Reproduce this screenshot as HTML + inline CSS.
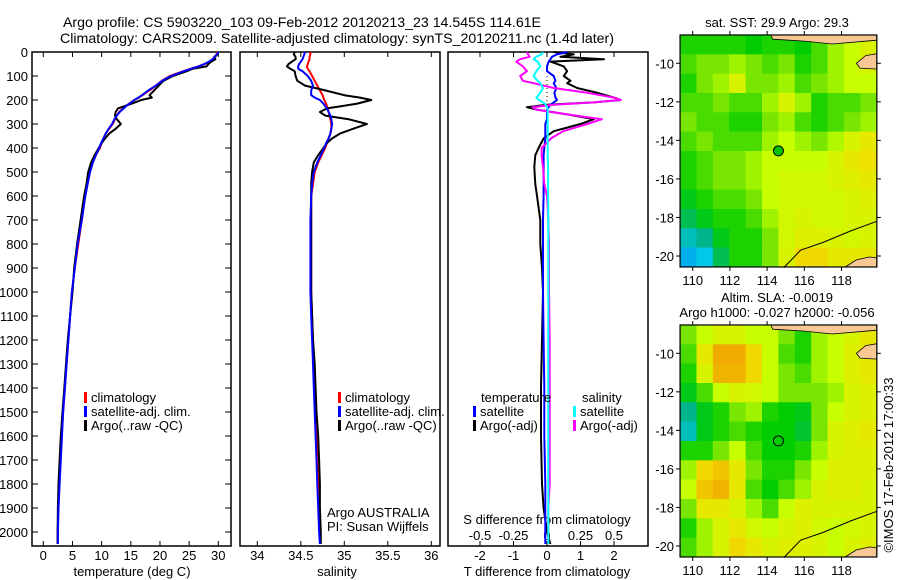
<!DOCTYPE html>
<html><head><meta charset="utf-8"><style>
html,body{margin:0;padding:0;background:#fff;}
svg{display:block;font-family:"Liberation Sans",sans-serif;}
text{fill:#000;}
</style></head><body>
<svg id="c" width="900" height="580" viewBox="0 0 900 580" xmlns="http://www.w3.org/2000/svg">
<g font-size="14">
<text x="63" y="27" textLength="478" lengthAdjust="spacingAndGlyphs">Argo profile: CS 5903220_103 09-Feb-2012 20120213_23 14.545S 114.61E</text>
<text x="60" y="43" textLength="554" lengthAdjust="spacingAndGlyphs">Climatology: CARS2009. Satellite-adjusted climatology: synTS_20120211.nc (1.4d later)</text>
</g>
<g id="p1"></g>
<g id="p2"></g>
<g id="p3"></g>
<g id="m1"></g>
<g id="m2"></g>
<text x="893" y="465" font-size="13" text-anchor="middle" transform="rotate(-90 893 465)">©IMOS 17-Feb-2012 17:00:33</text>
</svg>
<script>
// ---------- data ----------
const depth=[0,10,20,30,40,50,60,70,80,100,120,140,160,180,190,200,215,225,235,250,265,280,300,320,340,360,380,400,430,460,500,550,600,700,800,900,1000,1100,1200,1300,1400,1500,1600,1700,1800,1900,2000,2050];
const tempClim=[29.8,29.7,29.5,29.2,28.6,27.7,26.5,25.2,24,21.7,20.3,19.3,18.2,17,16.4,15.6,14.7,14.2,13.7,13.0,12.6,12.3,11.9,11.3,10.7,10.3,10.0,9.7,9.0,8.5,8.0,7.6,7.2,6.6,6.0,5.4,4.9,4.6,4.3,4.0,3.7,3.4,3.15,2.95,2.75,2.6,2.47,2.45];
const tempSat=[30.0,29.8,29.4,29.0,28.4,27.6,26.6,25.3,24.1,21.9,20.4,19.3,18.0,16.9,16.3,15.6,14.8,14.2,13.8,13.1,12.6,12.2,11.8,11.2,10.7,10.3,9.9,9.6,9.0,8.5,8.0,7.6,7.2,6.6,5.9,5.4,4.9,4.6,4.3,4.0,3.7,3.4,3.2,3.0,2.8,2.6,2.5,2.5];
const tempArgo=[30.0,29.9,29.3,29.5,28.8,28.3,28.0,25.6,24.6,22.2,20.6,19.8,19.0,18.2,18.6,16.8,15.2,14.0,12.8,12.4,12.3,12.6,13.3,12.4,11.3,10.6,10.0,9.5,8.8,8.2,7.7,7.4,7.0,6.4,5.8,5.3,5.0,4.6,4.2,3.9,3.6,3.3,3.0,2.8,2.6,2.5,2.45,2.45];
const salClim=[34.61,34.61,34.60,34.60,34.59,34.58,34.57,34.58,34.60,34.63,34.66,34.69,34.72,34.75,34.76,34.77,34.79,34.80,34.81,34.82,34.83,34.84,34.85,34.85,34.84,34.82,34.80,34.78,34.74,34.70,34.66,34.64,34.62,34.62,34.62,34.62,34.62,34.63,34.64,34.65,34.66,34.67,34.68,34.69,34.70,34.71,34.72,34.73];
const salSat=[34.55,34.54,34.53,34.52,34.50,34.48,34.47,34.47,34.52,34.58,34.62,34.64,34.62,34.62,34.66,34.72,34.76,34.78,34.80,34.82,34.84,34.85,34.86,34.85,34.84,34.82,34.79,34.77,34.73,34.69,34.65,34.63,34.62,34.61,34.61,34.61,34.61,34.62,34.63,34.64,34.65,34.66,34.67,34.68,34.69,34.70,34.71,34.72];
const salArgo=[34.43,34.42,34.44,34.44,34.40,34.36,34.34,34.38,34.43,34.44,34.46,34.55,34.78,35.00,35.18,35.31,35.15,34.98,34.80,34.72,34.78,35.05,35.26,35.10,34.95,34.86,34.80,34.76,34.70,34.65,34.63,34.62,34.62,34.62,34.62,34.62,34.62,34.63,34.64,34.66,34.67,34.68,34.70,34.71,34.72,34.72,34.73,34.73];
const diffDepth=[0,10,20,30,40,60,80,100,120,130,150,170,190,200,210,220,230,240,260,280,300,330,360,400,430,480,550,600,700,800,900,1000,1200,1400,1600,1800,1900,2000,2050];
const tDiffSat=[0.6,0.3,0.15,0.1,0.05,0,0,0.2,0.25,0.2,0.28,0.22,0.25,0.3,0.2,0.1,0.05,0,0,0,-0.05,-0.05,-0.05,-0.08,-0.1,-0.1,-0.1,-0.1,-0.12,-0.12,-0.12,-0.12,-0.1,-0.08,-0.08,-0.05,-0.05,-0.05,-0.05];
const tDiffArgo=[0.2,0.8,0.4,1.7,0.1,0.5,0.6,0.5,0.7,0.6,0.9,1.5,2.0,2.2,1.4,0,-0.6,-0.3,0.6,1.4,1.0,0.2,-0.1,-0.25,-0.35,-0.38,-0.35,-0.3,-0.2,-0.2,-0.15,-0.12,-0.15,-0.18,-0.18,-0.15,-0.1,0,0.1];
const sDiffSat=[-0.03,-0.04,-0.08,-0.1,-0.07,-0.05,-0.08,-0.1,-0.07,-0.05,-0.03,-0.05,-0.08,-0.06,-0.03,-0.01,0,0.005,0.005,0.005,0.005,0.005,0.005,0.005,0.005,0.008,0.008,0.008,0.01,0.01,0.01,0.01,0.01,0.01,0.01,0.01,0.01,0.01,0.01];
const sDiffArgo=[-0.15,-0.14,-0.13,-0.2,-0.23,-0.18,-0.15,-0.2,-0.18,-0.1,0.05,0.3,0.5,0.55,0.35,0.05,-0.11,-0.08,0.15,0.41,0.3,0.12,0.03,-0.04,-0.04,-0.03,-0.02,0,0.01,0.015,0.015,0.015,0.02,0.02,0.02,0.02,0.01,0.01,0.01];
const depthTicks=[0,100,200,300,400,500,600,700,800,900,1000,1100,1200,1300,1400,1500,1600,1700,1800,1900,2000];
const tempTicks=[0,5,10,15,20,25,30];
const salTicks=[34,34.5,35,35.5,36];
const tDiffTicks=[-2,-1,0,1,2];
const sDiffTicks=[-0.5,-0.25,0,0.25,0.5];
const sDiffTickLabels=["-0.5","-0.25","0","0.25","0.5"];
const lonTicks=[110,112,114,116,118];
const latTicks=[-10,-12,-14,-16,-18,-20];
const argoLon=114.61, argoLat=-14.545;
const sstGrid=[
[0.45,0.45,0.45,0.45,0.42,0.45,0.45,0.42,0.5,0.6,0.65,0.7],
[0.5,0.55,0.55,0.6,0.55,0.5,0.55,0.45,0.5,0.6,0.65,0.7],
[0.45,0.55,0.6,0.7,0.55,0.55,0.6,0.5,0.55,0.6,0.65,0.65],
[0.5,0.5,0.55,0.5,0.5,0.6,0.7,0.6,0.45,0.5,0.5,0.55],
[0.55,0.5,0.5,0.45,0.45,0.55,0.6,0.5,0.45,0.5,0.55,0.6],
[0.5,0.55,0.5,0.5,0.5,0.6,0.65,0.6,0.55,0.62,0.7,0.75],
[0.45,0.5,0.55,0.55,0.6,0.65,0.65,0.65,0.65,0.7,0.75,0.78],
[0.45,0.5,0.55,0.55,0.6,0.65,0.68,0.68,0.68,0.7,0.72,0.75],
[0.4,0.45,0.5,0.5,0.55,0.65,0.68,0.68,0.68,0.68,0.7,0.72],
[0.35,0.4,0.45,0.45,0.5,0.6,0.68,0.7,0.68,0.68,0.7,0.7],
[0.25,0.3,0.4,0.45,0.45,0.55,0.68,0.72,0.72,0.7,0.68,0.7],
[0.15,0.2,0.35,0.45,0.45,0.55,0.7,0.8,0.8,0.75,0.75,0.75]];
const slaGrid=[
[0.55,0.65,0.7,0.7,0.65,0.65,0.55,0.45,0.6,0.65,0.7,0.75],
[0.5,0.75,0.92,0.92,0.8,0.65,0.5,0.45,0.6,0.65,0.72,0.75],
[0.45,0.7,0.9,0.9,0.8,0.65,0.55,0.5,0.6,0.65,0.72,0.75],
[0.4,0.5,0.65,0.7,0.68,0.65,0.55,0.55,0.55,0.6,0.7,0.72],
[0.3,0.4,0.45,0.55,0.6,0.45,0.42,0.4,0.55,0.65,0.7,0.72],
[0.25,0.4,0.45,0.5,0.45,0.42,0.42,0.38,0.55,0.7,0.72,0.75],
[0.45,0.45,0.55,0.65,0.5,0.42,0.42,0.45,0.6,0.7,0.72,0.72],
[0.6,0.8,0.85,0.75,0.55,0.45,0.45,0.55,0.65,0.72,0.72,0.72],
[0.65,0.85,0.9,0.75,0.5,0.42,0.5,0.6,0.7,0.72,0.72,0.7],
[0.55,0.75,0.75,0.7,0.6,0.5,0.65,0.72,0.7,0.7,0.7,0.7],
[0.45,0.6,0.7,0.75,0.68,0.65,0.7,0.72,0.68,0.65,0.68,0.7],
[0.5,0.6,0.7,0.8,0.75,0.7,0.72,0.72,0.7,0.65,0.7,0.72]];
const coastLon=[119.9,118.5,117,115.8,115.3,114.9];
const coastLat=[-18.2,-18.7,-19.3,-19.7,-20.2,-20.6];

// ---------- helpers ----------
const NS="http://www.w3.org/2000/svg";
function mk(parent,tag,attrs,txt){const e=document.createElementNS(NS,tag);for(const k in attrs)e.setAttribute(k,attrs[k]);if(txt!==undefined)e.textContent=txt;parent.appendChild(e);return e;}
const yD=d=>52+d*0.24;
const xT=t=>43.3+t*5.833;
const xS=s=>257.3+(s-34)*87;
const xDT=v=>547+v*33.5;
const xDS=s=>547+s*134;
const TOP=52,BOT=546;

function frame(g,x0,x1,name){
  const r=mk(g,'rect',{x:x0,y:TOP,width:x1-x0,height:BOT-TOP,fill:'none',stroke:'#000','stroke-width':1.5});
  
  
}
function xticks(g,vals,labels,sc,y,name){
  vals.forEach((v,i)=>{
    const x=sc(v);
    mk(g,'line',{x1:x,x2:x,y1:TOP,y2:TOP+5,stroke:'#000'});
    mk(g,'line',{x1:x,x2:x,y1:BOT,y2:BOT-5,stroke:'#000'});
    const t=mk(g,'text',{x:x,y:y,'font-size':13,'text-anchor':'middle'},labels[i]);
    
    
  });
}
function series(g,xs,ys,sx,color,name,w){
  const pts=xs.map((v,i)=>sx(v).toFixed(1)+','+yD(ys[i]).toFixed(1)).join(' ');
  const p=mk(g,'polyline',{points:pts,fill:'none',stroke:color,'stroke-width':w||2,'stroke-linejoin':'round'});
  
  
}
function legend(g,x,y,items){
  items.forEach((it,i)=>{
    mk(g,'rect',{x:x,y:y+i*14-10,width:3,height:11,fill:it[0]});
    const t=mk(g,'text',{x:x+7,y:y+i*14,'font-size':13},it[1]);
    
    
  });
}

// ---------- panel 1 ----------
const p1=document.getElementById('p1');
frame(p1,32,231,'temperature');
depthTicks.forEach(d=>{
  const y=yD(d);
  mk(p1,'line',{x1:32,x2:38,y1:y,y2:y,stroke:'#000'});
  mk(p1,'line',{x1:231,x2:225,y1:y,y2:y,stroke:'#000'});
  const t=mk(p1,'text',{x:28,y:y+5,'font-size':13,'text-anchor':'end'},String(d));
  
  
});
xticks(p1,tempTicks,tempTicks.map(String),xT,560,'temperature');
mk(p1,'text',{x:132,y:576,'font-size':13,'text-anchor':'middle',},'temperature (deg C)');
series(p1,tempClim,depth,xT,'#f00','temp-climatology-line');
series(p1,tempArgo,depth,xT,'#000','temp-argo-line');
series(p1,tempSat,depth,xT,'#00f','temp-satellite-line');
legend(p1,84,402,[['#f00','climatology'],['#00f','satellite-adj. clim.'],['#000','Argo(..raw -QC)']]);

// ---------- panel 2 ----------
const p2=document.getElementById('p2');
frame(p2,240,440,'salinity');
xticks(p2,salTicks,salTicks.map(String),xS,560,'salinity');
mk(p2,'text',{x:337,y:576,'font-size':13,'text-anchor':'middle',},'salinity');
series(p2,salClim,depth,xS,'#f00','sal-climatology-line');
series(p2,salArgo,depth,xS,'#000','sal-argo-line');
series(p2,salSat,depth,xS,'#00f','sal-satellite-line');
legend(p2,338,402,[['#f00','climatology'],['#00f','satellite-adj. clim.'],['#000','Argo(..raw -QC)']]);
mk(p2,'text',{x:327,y:517,'font-size':13,},'Argo AUSTRALIA');
mk(p2,'text',{x:327,y:531,'font-size':13,},'PI: Susan Wijffels');

// ---------- panel 3 ----------
const p3=document.getElementById('p3');
frame(p3,448,648,'difference');
xticks(p3,tDiffTicks,tDiffTicks.map(String),xDT,560,'t-diff');
sDiffTicks.forEach((v,i)=>{
  const t=mk(p3,'text',{x:xDS(v),y:540,'font-size':13,'text-anchor':'middle'},sDiffTickLabels[i]);
  
  
});
mk(p3,'text',{x:547,y:524,'font-size':13,'text-anchor':'middle',},'S difference from climatology');
mk(p3,'text',{x:547,y:576,'font-size':13,'text-anchor':'middle',},'T difference from climatology');
mk(p3,'line',{x1:xDT(0),x2:xDT(0),y1:yD(100),y2:yD(250),stroke:'#000','stroke-dasharray':'1,3',});
series(p3,tDiffArgo,diffDepth,xDT,'#000','t-diff-argo-line');
series(p3,tDiffSat,diffDepth,xDT,'#00f','t-diff-satellite-line');
series(p3,sDiffArgo,diffDepth,xDS,'#f0f','s-diff-argo-line');
series(p3,sDiffSat,diffDepth,xDS,'#0ff','s-diff-satellite-line');
mk(p3,'text',{x:481,y:402,'font-size':13,},'temperature');
legend(p3,473,416,[['#00f','satellite'],['#000','Argo(-adj)']]);
mk(p3,'text',{x:582,y:402,'font-size':13,},'salinity');
legend(p3,573,416,[['#0ff','satellite'],['#f0f','Argo(-adj)']]);

// ---------- maps ----------
const stops=[[0,[0,100,255]],[0.2,[0,200,230]],[0.3,[0,180,140]],[0.42,[0,205,0]],[0.55,[120,230,0]],[0.65,[200,255,0]],[0.78,[240,225,0]],[1,[240,140,0]]];
function cmap(v){for(let i=1;i<stops.length;i++){if(v<=stops[i][0]){const a=stops[i-1],b=stops[i],f=(v-a[0])/(b[0]-a[0]);return 'rgb('+a[1].map((c,k)=>Math.round(c+(b[1][k]-c)*f)).join(',')+')';}}return 'rgb(240,140,0)';}
const LON0=109.32,LON1=119.9,LAT0=-8.53,LAT1=-20.57;
const lonX=lon=>692.7+(lon-110)*18.6;
function drawMap(gid,grid,off,name){
  const g=document.getElementById(gid);
  const latY=lat=>off+63.3+(-10-lat)*19.27;
  const nr=grid.length,nc=grid[0].length;
  grid.forEach((row,r)=>row.forEach((v,c)=>{
    const la=LAT0+(LAT1-LAT0)*r/nr, lb=LAT0+(LAT1-LAT0)*(r+1)/nr;
    const lo=LON0+(LON1-LON0)*c/nc, lp=LON0+(LON1-LON0)*(c+1)/nc;
    const x=lonX(lo),y=latY(la);
    const cell=mk(g,'rect',{x:x.toFixed(1),y:y.toFixed(1),width:(lonX(lp)-x+0.5).toFixed(1),height:(latY(lb)-y+0.5).toFixed(1),fill:cmap(v)});
    
    
  }));
  const land=[[[114.2,-8.53],[119.9,-8.53],[119.9,-8.8],[117.5,-9.0],[116,-8.85],[114.3,-8.75]],[[118.8,-10.0],[119.3,-9.6],[119.9,-9.5],[119.9,-10.3],[119.0,-10.25]],[[118.2,-20.57],[118.8,-20.2],[119.5,-20.05],[119.9,-20.1],[119.9,-20.57]]];
  land.forEach(poly=>{
    const l=mk(g,'polygon',{points:poly.map(p=>lonX(p[0]).toFixed(1)+','+latY(p[1]).toFixed(1)).join(' '),fill:'#f8c894',stroke:'#000','stroke-width':0.8});
    
    
  });
  const cl=mk(g,'polyline',{points:coastLon.map((lo,i)=>lonX(lo).toFixed(1)+','+latY(coastLat[i]).toFixed(1)).join(' '),fill:'none',stroke:'#000','stroke-width':1});
  
  
  const x0=lonX(LON0),x1=lonX(LON1),y0=latY(LAT0),y1=latY(LAT1);
  mk(g,'rect',{x:x0,y:y0,width:x1-x0,height:y1-y0,fill:'none',stroke:'#000','stroke-width':1.2});
  lonTicks.forEach(lo=>{
    const x=lonX(lo);
    mk(g,'line',{x1:x,x2:x,y1:y0,y2:y0-4,stroke:'#000'});
    mk(g,'line',{x1:x,x2:x,y1:y1,y2:y1+4,stroke:'#000'});
    const t=mk(g,'text',{x:x,y:y1+18,'font-size':13,'text-anchor':'middle'},String(lo));
    
    
  });
  latTicks.forEach(la=>{
    const y=latY(la);
    mk(g,'line',{x1:x0,x2:x0-4,y1:y,y2:y,stroke:'#000'});
    mk(g,'line',{x1:x1,x2:x1+4,y1:y,y2:y,stroke:'#000'});
    const t=mk(g,'text',{x:x0-6,y:y+5,'font-size':13,'text-anchor':'end'},String(la));
    
    
  });
  const m=mk(g,'circle',{cx:lonX(argoLon),cy:latY(argoLat),r:5,fill:gid==='m1'?'#00c000':'none',stroke:'#000','stroke-width':1});
  
  
}
drawMap('m1',sstGrid,0,'sst-map');
drawMap('m2',slaGrid,290,'sla-map');
const m1=document.getElementById('m1'),m2=document.getElementById('m2');
mk(m1,'text',{x:777,y:27,'font-size':13,'text-anchor':'middle',},'sat. SST: 29.9 Argo: 29.3');
mk(m2,'text',{x:777,y:302,'font-size':13,'text-anchor':'middle',},'Altim. SLA: -0.0019');
mk(m2,'text',{x:777,y:317,'font-size':13,'text-anchor':'middle',},'Argo h1000: -0.027 h2000: -0.056');
</script>
</body></html>
